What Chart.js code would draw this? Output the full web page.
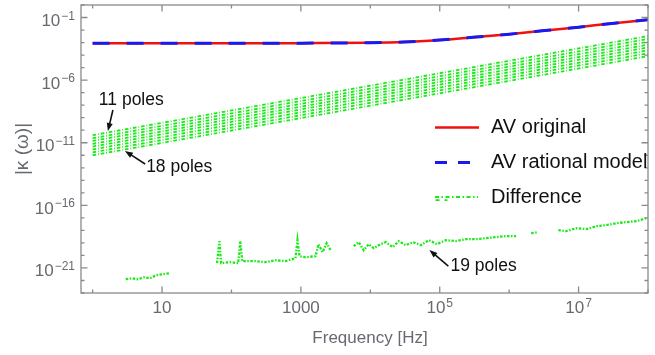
<!DOCTYPE html>
<html lang="en">
<head>
<meta charset="UTF-8">
<title>AV kernel rational fit</title>
<script src="https://cdn.jsdelivr.net/npm/chart.js"></script>
<style>
  body { margin: 0; background: #fff; }
</style>
</head>
<body>
<canvas id="kernelChart" width="655" height="355"></canvas>
<script>
// AV original and its rational model (they overlap)
const freqAV = [1, 10, 100, 1e3, 1e4, 3e4, 1e5, 3e5, 1e6, 3e6, 1e7, 3e7, 1e8];
const avOriginal = [8.9e-4, 8.9e-4, 8.9e-4, 9.0e-4, 9.6e-4, 1.1e-3, 1.6e-3, 2.6e-3, 4.7e-3, 8.6e-3, 1.7e-2, 3.4e-2, 6.6e-2];
const avRational = [8.9e-4, 8.9e-4, 8.9e-4, 9.0e-4, 9.6e-4, 1.1e-3, 1.6e-3, 2.6e-3, 4.7e-3, 8.6e-3, 1.7e-2, 3.4e-2, 6.6e-2];

// difference, 11 .. 18 poles
const freqBand = [1, 100, 1e4, 1e6, 1e8];
const diff11 = [4.0e-11, 3.8e-9, 3.6e-7, 3.5e-5, 3.3e-3];
const diff12 = [2.3e-11, 2.2e-9, 2.1e-7, 2.0e-5, 1.95e-3];
const diff13 = [1.4e-11, 1.3e-9, 1.25e-7, 1.2e-5, 1.15e-3];
const diff14 = [8.1e-12, 7.8e-10, 7.4e-8, 7.1e-6, 6.8e-4];
const diff15 = [4.9e-12, 4.7e-10, 4.5e-8, 4.3e-6, 4.1e-4];
const diff16 = [2.9e-12, 2.75e-10, 2.6e-8, 2.5e-6, 2.4e-4];
const diff17 = [1.7e-12, 1.6e-10, 1.55e-8, 1.5e-6, 1.4e-4];
const diff18 = [1.0e-12, 9.5e-11, 9.1e-9, 8.7e-7, 8.3e-5];
const bandSeries = [diff11, diff12, diff13, diff14, diff15, diff16, diff17, diff18];

// difference, 19 poles (noisy, null = gap)
const freq19 = [3.0, 3.7, 4.5, 5.5, 6.7, 8.2, 10.3, 13, 30,
  62, 67, 71, 96, 125, 134, 143, 221, 308, 430, 600, 836, 893, 955, 1165, 1625,
  1795, 2050, 2345, 2680, 4000,
  5750, 6800, 8030, 9490, 11200, 14100, 16700, 21100, 25700, 32500, 41000, 53500, 69800, 91200,
  1.23e5, 1.71e5, 2.39e5, 3.34e5, 4.66e5, 6.49e5, 9.06e5, 1.26e6, 1.6e6,
  2.08e6, 2.62e6, 3.5e6,
  5.11e6, 6.66e6, 9.29e6, 1.3e7, 1.81e7, 2.52e7, 3.52e7, 4.91e7, 6.84e7, 9.55e7];
const diff19 = [1.26e-22, 1.5e-22, 1.26e-22, 1.8e-22, 1.5e-22, 2.6e-22, 3.2e-22, 3.8e-22, null,
  2.4e-21, 1.4e-19, 2.4e-21, 2.9e-21, 2.4e-21, 1.4e-19, 3.5e-21, 3.5e-21, 2.9e-21, 4.1e-21, 3.5e-21, 6.0e-21, 1.66e-19, 8.7e-21, 7.2e-21, 8.7e-21,
  7.9e-20, 1.8e-20, 9.5e-20, 2.6e-20, null,
  5.5e-20, 1.15e-19, 2.6e-20, 7.9e-20, 3.8e-20, 7.9e-20, 1.15e-19, 4.6e-20, 1.4e-19, 6.6e-20, 1.15e-19, 6.6e-20, 1.66e-19, 7.9e-20,
  1.66e-19, 1.4e-19, 2.0e-19, 2.0e-19, 2.4e-19, 2.9e-19, 3.5e-19, 3.5e-19, null,
  6.0e-19, 7.2e-19, null,
  1.05e-18, 8.7e-19, 1.5e-18, 1.26e-18, 2.2e-18, 2.6e-18, 3.8e-18, 4.6e-18, 5.5e-18, 9.5e-18];
const freqSpike = [8.7e4, 1.29e5];
const diffSpike = [2.6e-16, 2.6e-16];

// ticks
const xMajor = [10, 1e3, 1e5, 1e7];
const xMajorLabels = [['10', ''], ['1000', ''], ['10', '5'], ['10', '7']];
const xMinor = [1, 100, 1e4, 1e6, 1e8];
const yMajor = [1e-21, 1e-16, 1e-11, 1e-6, 1e-1];
const yMajorLabels = [['10', '\u221221'], ['10', '\u221216'], ['10', '\u221211'], ['10', '\u22126'], ['10', '\u22121']];
const yMinor = [1e-23, 1e-22, 1e-20, 1e-19, 1e-18, 1e-17, 1e-15, 1e-14, 1e-13, 1e-12,
  1e-10, 1e-9, 1e-8, 1e-7, 1e-5, 1e-4, 1e-3, 1e-2, 1];

// annotations: text anchor (left, baseline), arrow tail -> head, all in data units
const notes = [
  { text: '11 poles', x: 1.23, y: 1.0e-8, fx: 1.96, fy: 4.1e-9, tx: 1.66, ty: 8.5e-11 },
  { text: '18 poles', x: 5.9, y: 4.6e-14, fx: 5.7, fy: 2.0e-13, tx: 2.92, ty: 2.2e-12 },
  { text: '19 poles', x: 1.43e5, y: 5.6e-22, fx: 1.33e5, fy: 1.4e-21, tx: 7.1e4, ty: 2.7e-20 }
];

const FONT = '"Liberation Sans", Arial, sans-serif';
const GREEN = 'rgb(25, 235, 25)';
const AXIS = '#8a8a8a';
const LABEL = '#666a70';

const pts = (xs, ys) => xs.map((f, i) => ({ x: f, y: ys[i] }));

const datasets = [
  { label: 'AV rational model', data: pts(freqAV, avRational), borderColor: '#1a1aee', borderWidth: 3,
    borderDash: [17, 17], order: 0, cubicInterpolationMode: 'monotone' },
  { label: 'AV original', data: pts(freqAV, avOriginal), borderColor: '#ee1111', borderWidth: 2.5,
    order: 1, cubicInterpolationMode: 'monotone' }
];
bandSeries.forEach((s, i) => {
  datasets.push({ label: 'Difference ' + (11 + i) + ' poles', data: pts(freqBand, s), borderColor: GREEN,
    borderWidth: 1.8, borderDash: [3.6, 1.9, 0.8, 1.9], order: 2 });
});
datasets.push({ label: 'Difference 19 poles', data: pts(freq19, diff19), borderColor: GREEN,
  borderWidth: 2.3, borderDash: [2.5, 1.5, 1.5, 1.5], order: 2, spanGaps: false });
datasets.push({ label: 'Difference 19 poles spike', data: pts(freqSpike, diffSpike), borderColor: GREEN,
  borderWidth: 1.8, borderDash: [4, 5], order: 2 });

function powLabel(ctx, base, exp, x, y, align) {
  ctx.font = '17px ' + FONT;
  const wb = ctx.measureText(base).width;
  ctx.font = '12px ' + FONT;
  const we = exp ? ctx.measureText(exp).width + 1 : 0;
  const w = wb + we;
  const x0 = align === 'right' ? x - w : x - w / 2;
  ctx.textAlign = 'left';
  ctx.textBaseline = 'alphabetic';
  ctx.font = '17px ' + FONT;
  ctx.fillText(base, x0, y);
  if (exp) {
    ctx.font = '12px ' + FONT;
    ctx.fillText(exp, x0 + wb + 1, y - 6.5);
  }
}

function arrow(ctx, x0, y0, x1, y1) {
  const ang = Math.atan2(y1 - y0, x1 - x0);
  const len = 8, half = 3;
  ctx.beginPath();
  ctx.moveTo(x0, y0);
  ctx.lineTo(x1 - Math.cos(ang) * len * 0.8, y1 - Math.sin(ang) * len * 0.8);
  ctx.stroke();
  ctx.beginPath();
  ctx.moveTo(x1, y1);
  ctx.lineTo(x1 - Math.cos(ang) * len - Math.sin(ang) * half, y1 - Math.sin(ang) * len + Math.cos(ang) * half);
  ctx.lineTo(x1 - Math.cos(ang) * len + Math.sin(ang) * half, y1 - Math.sin(ang) * len - Math.cos(ang) * half);
  ctx.closePath();
  ctx.fill();
}

const decorations = {
  id: 'decorations',
  afterDraw(chart) {
    const { ctx, chartArea: a } = chart;
    const x = chart.scales.x, y = chart.scales.y;
    ctx.save();

    // frame
    ctx.strokeStyle = AXIS;
    ctx.lineWidth = 1.3;
    ctx.strokeRect(a.left, a.top, a.right - a.left, a.bottom - a.top);

    // inward ticks
    ctx.beginPath();
    const tickX = (v, len) => {
      const px = x.getPixelForValue(v);
      ctx.moveTo(px, a.bottom); ctx.lineTo(px, a.bottom - len);
      ctx.moveTo(px, a.top); ctx.lineTo(px, a.top + len);
    };
    const tickY = (v, len) => {
      const py = y.getPixelForValue(v);
      ctx.moveTo(a.left, py); ctx.lineTo(a.left + len, py);
      ctx.moveTo(a.right, py); ctx.lineTo(a.right - len, py);
    };
    xMajor.forEach(v => tickX(v, 6.5));
    xMinor.forEach(v => tickX(v, 3.5));
    yMajor.forEach(v => tickY(v, 6.5));
    yMinor.forEach(v => tickY(v, 3.5));
    ctx.stroke();

    // tick labels
    ctx.fillStyle = LABEL;
    xMajor.forEach((v, i) => powLabel(ctx, xMajorLabels[i][0], xMajorLabels[i][1], x.getPixelForValue(v), a.bottom + 20, 'center'));
    yMajor.forEach((v, i) => powLabel(ctx, yMajorLabels[i][0], yMajorLabels[i][1], a.left - 6, y.getPixelForValue(v) + 8.5, 'right'));

    // axis titles
    ctx.font = '17px ' + FONT;
    ctx.textAlign = 'center';
    ctx.textBaseline = 'middle';
    ctx.fillText('Frequency [Hz]', 370, 338);
    ctx.save();
    ctx.translate(23, (a.top + a.bottom) / 2);
    ctx.rotate(-Math.PI / 2);
    ctx.font = '19px ' + FONT;
    ctx.fillText('|\u03BA (\u03C9)|', 0, 0);
    ctx.restore();

    // annotations
    ctx.fillStyle = '#111';
    ctx.strokeStyle = '#111';
    ctx.lineWidth = 1.6;
    ctx.font = '17.5px ' + FONT;
    ctx.textAlign = 'left';
    ctx.textBaseline = 'alphabetic';
    notes.forEach(n => {
      ctx.fillText(n.text, x.getPixelForValue(n.x), y.getPixelForValue(n.y));
      arrow(ctx, x.getPixelForValue(n.fx), y.getPixelForValue(n.fy), x.getPixelForValue(n.tx), y.getPixelForValue(n.ty));
    });

    // legend
    const items = [
      { text: 'AV original', color: '#ee1111', width: 2.5, dash: [], ly: 127.5, end: 479 },
      { text: 'AV rational model', color: '#1a1aee', width: 3, dash: [12, 11], ly: 162.5, end: 470 },
      { text: 'Difference', color: GREEN, width: 1.8, dash: [4, 2.5, 1.5, 2.5], ly: 197, end: 478 }
    ];
    ctx.font = '20px ' + FONT;
    items.forEach(it => {
      ctx.save();
      ctx.strokeStyle = it.color;
      ctx.lineWidth = it.width;
      ctx.setLineDash(it.dash);
      ctx.beginPath();
      ctx.moveTo(435, it.ly);
      ctx.lineTo(it.end, it.ly);
      ctx.stroke();
      ctx.restore();
      ctx.fillStyle = '#111';
      ctx.fillText(it.text, 491, it.ly + 5.5);
    });

    ctx.restore();
  }
};

new Chart(document.getElementById('kernelChart'), {
  type: 'line',
  data: { datasets: datasets },
  options: {
    responsive: false,
    animation: false,
    devicePixelRatio: 1,
    layout: { padding: { left: 81, right: 7, top: 5, bottom: 62 } },
    elements: { point: { radius: 0 }, line: { tension: 0 } },
    plugins: { legend: { display: false }, tooltip: { enabled: false } },
    scales: {
      x: { type: 'logarithmic', min: 0.68, max: 1e8, display: false },
      y: { type: 'logarithmic', min: 1e-23, max: 1, display: false }
    }
  },
  plugins: [decorations]
});
</script>
</body>
</html>
